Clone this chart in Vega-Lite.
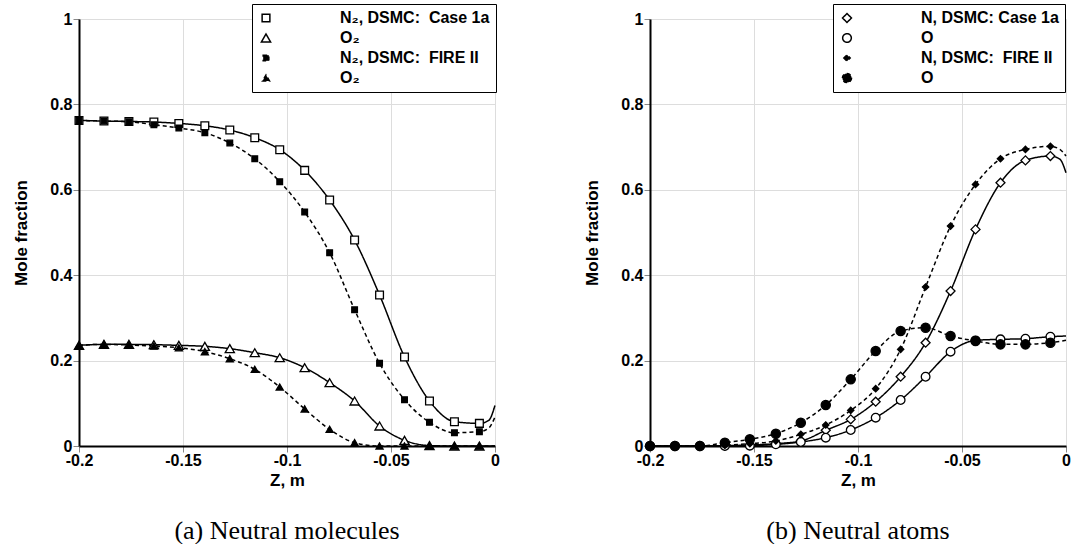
{
 "$schema": "https://vega.github.io/schema/vega-lite/v6.json",
 "padding": {"left": 12, "top": 3, "right": 0, "bottom": 0},
 "spacing": 83,
 "resolve": {"scale": {"shape": "independent", "fill": "independent", "size": "independent", "strokeDash": "independent"}, "legend": {"shape": "independent", "fill": "independent", "size": "independent", "strokeDash": "independent"}},
 "datasets": {
  "mol": [
   {"s":"N2a","z":-0.2,"y":0.7625},{"s":"N2a","z":-0.188,"y":0.761},{"s":"N2a","z":-0.176,"y":0.760},{"s":"N2a","z":-0.164,"y":0.7587},{"s":"N2a","z":-0.152,"y":0.7555},{"s":"N2a","z":-0.1395,"y":0.750},{"s":"N2a","z":-0.1275,"y":0.740},{"s":"N2a","z":-0.1155,"y":0.722},{"s":"N2a","z":-0.1035,"y":0.694},{"s":"N2a","z":-0.0915,"y":0.6455},{"s":"N2a","z":-0.0795,"y":0.576},{"s":"N2a","z":-0.0675,"y":0.4823},{"s":"N2a","z":-0.0555,"y":0.3536},{"s":"N2a","z":-0.0435,"y":0.2084},{"s":"N2a","z":-0.0315,"y":0.1054},{"s":"N2a","z":-0.0195,"y":0.057},{"s":"N2a","z":-0.0075,"y":0.053},{"s":"N2a","z":-0.003,"y":0.06},{"s":"N2a","z":0,"y":0.095},
   {"s":"O2a","z":-0.2,"y":0.2357},{"s":"O2a","z":-0.188,"y":0.238},{"s":"O2a","z":-0.176,"y":0.238},{"s":"O2a","z":-0.164,"y":0.2373},{"s":"O2a","z":-0.152,"y":0.2357},{"s":"O2a","z":-0.1395,"y":0.2334},{"s":"O2a","z":-0.1275,"y":0.228},{"s":"O2a","z":-0.1155,"y":0.2185},{"s":"O2a","z":-0.1035,"y":0.2068},{"s":"O2a","z":-0.0915,"y":0.1834},{"s":"O2a","z":-0.0795,"y":0.1483},{"s":"O2a","z":-0.0675,"y":0.1054},{"s":"O2a","z":-0.0555,"y":0.0468},{"s":"O2a","z":-0.0435,"y":0.0133},{"s":"O2a","z":-0.0315,"y":0.001},{"s":"O2a","z":-0.0195,"y":0},{"s":"O2a","z":-0.0075,"y":0},{"s":"O2a","z":0,"y":0},
   {"s":"N2f","z":-0.2,"y":0.7625},{"s":"N2f","z":-0.188,"y":0.761},{"s":"N2f","z":-0.176,"y":0.7594},{"s":"N2f","z":-0.164,"y":0.7524},{"s":"N2f","z":-0.152,"y":0.7446},{"s":"N2f","z":-0.1395,"y":0.7337},{"s":"N2f","z":-0.1275,"y":0.7095},{"s":"N2f","z":-0.1155,"y":0.6728},{"s":"N2f","z":-0.1035,"y":0.619},{"s":"N2f","z":-0.0915,"y":0.5478},{"s":"N2f","z":-0.0795,"y":0.4527},{"s":"N2f","z":-0.0675,"y":0.3192},{"s":"N2f","z":-0.0555,"y":0.1936},{"s":"N2f","z":-0.0435,"y":0.1085},{"s":"N2f","z":-0.0315,"y":0.0554},{"s":"N2f","z":-0.0195,"y":0.0312},{"s":"N2f","z":-0.0075,"y":0.0336},{"s":"N2f","z":-0.003,"y":0.042},{"s":"N2f","z":0,"y":0.068},
   {"s":"O2f","z":-0.2,"y":0.2357},{"s":"O2f","z":-0.188,"y":0.238},{"s":"O2f","z":-0.176,"y":0.2365},{"s":"O2f","z":-0.164,"y":0.234},{"s":"O2f","z":-0.152,"y":0.230},{"s":"O2f","z":-0.1395,"y":0.2209},{"s":"O2f","z":-0.1275,"y":0.2045},{"s":"O2f","z":-0.1155,"y":0.1795},{"s":"O2f","z":-0.1035,"y":0.1381},{"s":"O2f","z":-0.0915,"y":0.0867},{"s":"O2f","z":-0.0795,"y":0.039},{"s":"O2f","z":-0.0675,"y":0.0078},{"s":"O2f","z":-0.0555,"y":0},{"s":"O2f","z":-0.0435,"y":0},{"s":"O2f","z":-0.0315,"y":0},{"s":"O2f","z":-0.0195,"y":0},{"s":"O2f","z":-0.0075,"y":0},{"s":"O2f","z":0,"y":0}
  ],
  "atom": [
   {"s":"Na","z":-0.2,"y":0},{"s":"Na","z":-0.188,"y":0},{"s":"Na","z":-0.176,"y":0},{"s":"Na","z":-0.164,"y":0.0008},{"s":"Na","z":-0.152,"y":0.0023},{"s":"Na","z":-0.1395,"y":0.0055},{"s":"Na","z":-0.1275,"y":0.0117},{"s":"Na","z":-0.1155,"y":0.0367},{"s":"Na","z":-0.1035,"y":0.0624},{"s":"Na","z":-0.0915,"y":0.1038},{"s":"Na","z":-0.0795,"y":0.1623},{"s":"Na","z":-0.0675,"y":0.242},{"s":"Na","z":-0.0555,"y":0.3629},{"s":"Na","z":-0.0435,"y":0.5073},{"s":"Na","z":-0.0315,"y":0.6166},{"s":"Na","z":-0.0195,"y":0.6689},{"s":"Na","z":-0.0075,"y":0.679},{"s":"Na","z":-0.003,"y":0.672},{"s":"Na","z":0,"y":0.64},
   {"s":"Oa","z":-0.2,"y":0},{"s":"Oa","z":-0.188,"y":0},{"s":"Oa","z":-0.176,"y":0},{"s":"Oa","z":-0.164,"y":0},{"s":"Oa","z":-0.152,"y":0.0008},{"s":"Oa","z":-0.1395,"y":0.0039},{"s":"Oa","z":-0.1275,"y":0.0094},{"s":"Oa","z":-0.1155,"y":0.0195},{"s":"Oa","z":-0.1035,"y":0.0375},{"s":"Oa","z":-0.0915,"y":0.0663},{"s":"Oa","z":-0.0795,"y":0.1077},{"s":"Oa","z":-0.0675,"y":0.1623},{"s":"Oa","z":-0.0555,"y":0.2209},{"s":"Oa","z":-0.0435,"y":0.2474},{"s":"Oa","z":-0.0315,"y":0.2498},{"s":"Oa","z":-0.0195,"y":0.2513},{"s":"Oa","z":-0.0075,"y":0.256},{"s":"Oa","z":0,"y":0.2576},
   {"s":"Nf","z":-0.2,"y":0},{"s":"Nf","z":-0.188,"y":0},{"s":"Nf","z":-0.176,"y":0},{"s":"Nf","z":-0.164,"y":0.0016},{"s":"Nf","z":-0.152,"y":0.0055},{"s":"Nf","z":-0.1395,"y":0.0117},{"s":"Nf","z":-0.1275,"y":0.0273},{"s":"Nf","z":-0.1155,"y":0.0492},{"s":"Nf","z":-0.1035,"y":0.0835},{"s":"Nf","z":-0.0915,"y":0.1342},{"s":"Nf","z":-0.0795,"y":0.2263},{"s":"Nf","z":-0.0675,"y":0.3723},{"s":"Nf","z":-0.0555,"y":0.5151},{"s":"Nf","z":-0.0435,"y":0.6127},{"s":"Nf","z":-0.0315,"y":0.6728},{"s":"Nf","z":-0.0195,"y":0.6946},{"s":"Nf","z":-0.0075,"y":0.7017},{"s":"Nf","z":-0.003,"y":0.695},{"s":"Nf","z":0,"y":0.679},
   {"s":"Of","z":-0.2,"y":0},{"s":"Of","z":-0.188,"y":0},{"s":"Of","z":-0.176,"y":0},{"s":"Of","z":-0.164,"y":0.0078},{"s":"Of","z":-0.152,"y":0.0156},{"s":"Of","z":-0.1395,"y":0.0289},{"s":"Of","z":-0.1275,"y":0.0546},{"s":"Of","z":-0.1155,"y":0.096},{"s":"Of","z":-0.1035,"y":0.1561},{"s":"Of","z":-0.0915,"y":0.2224},{"s":"Of","z":-0.0795,"y":0.2693},{"s":"Of","z":-0.0675,"y":0.2771},{"s":"Of","z":-0.0555,"y":0.2576},{"s":"Of","z":-0.0435,"y":0.2459},{"s":"Of","z":-0.0315,"y":0.238},{"s":"Of","z":-0.0195,"y":0.238},{"s":"Of","z":-0.0075,"y":0.242},{"s":"Of","z":0,"y":0.2474}
  ]
 },
 "hconcat": [
  {
   "width": 416, "height": 427,
   "title": {"text": "(a) Neutral molecules", "orient": "bottom", "offset": 30, "anchor": "middle", "font": "Liberation Serif", "fontSize": 26, "fontWeight": "normal", "color": "black"},
   "data": {"name": "mol"},
   "layer": [
    {"mark": {"type": "line", "interpolate": "monotone", "color": "black", "strokeWidth": 1.5},
     "encoding": {
      "x": {"field": "z", "type": "quantitative", "scale": {"domain": [-0.2, 0], "nice": false, "zero": false},
            "axis": {"title": "Z, m", "values": [-0.2,-0.15,-0.1,-0.05,0],
                     "labelExpr": "toString(round(datum.value*100)/100)",
                     "tickSize": 6, "labelFlush": false, "labelOverlap": false, "labelPadding": 0, "titlePadding": 4,
                     "domainColor": "black", "domainWidth": 2,
                     "labelFont": "Liberation Sans", "labelFontWeight": "bold", "labelFontSize": 16, "labelColor": "black",
                     "titleFont": "Liberation Sans", "titleFontWeight": "bold", "titleFontSize": 17, "titleColor": "black"}},
      "y": {"field": "y", "type": "quantitative", "scale": {"domain": [0, 1], "nice": false},
            "axis": {"title": "Mole fraction", "values": [0,0.2,0.4,0.6,0.8,1],
                     "labelExpr": "toString(round(datum.value*10)/10)",
                     "tickSize": 6, "labelFlush": false, "labelOverlap": false, "labelPadding": 1, "titlePadding": 19,
                     "domainColor": "black", "domainWidth": 2,
                     "labelFont": "Liberation Sans", "labelFontWeight": "bold", "labelFontSize": 16, "labelColor": "black",
                     "titleFont": "Liberation Sans", "titleFontWeight": "bold", "titleFontSize": 17, "titleColor": "black"}},
      "detail": {"field": "s", "type": "nominal"},
      "strokeDash": {"field": "s", "type": "nominal", "scale": {"domain": ["N2a","O2a","N2f","O2f"], "range": [[1,0],[1,0],[4,3],[4,3]]},
        "legend": {"orient": "none", "legendX": 173, "legendY": -15, "title": null, "padding": 6, "strokeColor": "black", "fillColor": "white", "symbolSize": 256, "labelLimit": 400, "labelFont": "Liberation Sans", "labelFontWeight": "bold", "labelFontSize": 16, "labelColor": "black", "labelOffset": 66, "rowPadding": 4,
          "labelExpr": "datum.value==='N2a' ? 'N₂, DSMC:\u00a0 Case 1a' : datum.value==='N2f' ? 'N₂, DSMC:\u00a0 FIRE II' : 'O₂'"}}
     }},
    {"transform": [{"filter": "datum.z < -0.004"}],
     "mark": {"type": "point", "filled": true, "stroke": "black", "strokeWidth": 1.3, "opacity": 1},
     "encoding": {
      "x": {"field": "z", "type": "quantitative"},
      "y": {"field": "y", "type": "quantitative"},
      "fill": {"field": "s", "type": "nominal", "scale": {"domain": ["N2a","O2a","N2f","O2f"], "range": ["white","white","black","black"]},
        "legend": {"orient": "none", "legendX": 173, "legendY": -15, "title": null, "padding": 6, "strokeColor": "black", "fillColor": "white", "symbolSize": 256, "labelLimit": 400, "labelFont": "Liberation Sans", "labelFontWeight": "bold", "labelFontSize": 16, "labelColor": "black", "labelOffset": 66, "rowPadding": 4,
          "labelExpr": "datum.value==='N2a' ? 'N₂, DSMC:\u00a0 Case 1a' : datum.value==='N2f' ? 'N₂, DSMC:\u00a0 FIRE II' : 'O₂'"}},
      "size": {"field": "s", "type": "nominal", "scale": {"type": "ordinal", "domain": ["N2a","O2a","N2f","O2f"], "range": [60,85,32,50]},
        "legend": {"orient": "none", "legendX": 173, "legendY": -15, "title": null, "padding": 6, "strokeColor": "black", "fillColor": "white", "symbolSize": 256, "labelLimit": 400, "labelFont": "Liberation Sans", "labelFontWeight": "bold", "labelFontSize": 16, "labelColor": "black", "labelOffset": 66, "rowPadding": 4,
          "labelExpr": "datum.value==='N2a' ? 'N₂, DSMC:\u00a0 Case 1a' : datum.value==='N2f' ? 'N₂, DSMC:\u00a0 FIRE II' : 'O₂'"}},
      "shape": {"field": "s", "type": "nominal", "scale": {"domain": ["N2a","O2a","N2f","O2f"], "range": ["square","triangle-up","square","triangle-up"]},
        "legend": {"orient": "none", "legendX": 173, "legendY": -15, "title": null, "padding": 6, "strokeColor": "black", "fillColor": "white", "symbolSize": 256, "labelLimit": 400, "labelFont": "Liberation Sans", "labelFontWeight": "bold", "labelFontSize": 16, "labelColor": "black", "labelOffset": 66, "rowPadding": 4,
          "labelExpr": "datum.value==='N2a' ? 'N₂, DSMC:\u00a0 Case 1a' : datum.value==='N2f' ? 'N₂, DSMC:\u00a0 FIRE II' : 'O₂'"}}
     }}
   ]
  },
  {
   "width": 416, "height": 427,
   "title": {"text": "(b) Neutral atoms", "orient": "bottom", "offset": 30, "anchor": "middle", "font": "Liberation Serif", "fontSize": 26, "fontWeight": "normal", "color": "black"},
   "data": {"name": "atom"},
   "layer": [
    {"mark": {"type": "line", "interpolate": "monotone", "color": "black", "strokeWidth": 1.5},
     "encoding": {
      "x": {"field": "z", "type": "quantitative", "scale": {"domain": [-0.2, 0], "nice": false, "zero": false},
            "axis": {"title": "Z, m", "values": [-0.2,-0.15,-0.1,-0.05,0],
                     "labelExpr": "toString(round(datum.value*100)/100)",
                     "tickSize": 6, "labelFlush": false, "labelOverlap": false, "labelPadding": 0, "titlePadding": 4,
                     "domainColor": "black", "domainWidth": 2,
                     "labelFont": "Liberation Sans", "labelFontWeight": "bold", "labelFontSize": 16, "labelColor": "black",
                     "titleFont": "Liberation Sans", "titleFontWeight": "bold", "titleFontSize": 17, "titleColor": "black"}},
      "y": {"field": "y", "type": "quantitative", "scale": {"domain": [0, 1], "nice": false},
            "axis": {"title": "Mole fraction", "values": [0,0.2,0.4,0.6,0.8,1],
                     "labelExpr": "toString(round(datum.value*10)/10)",
                     "tickSize": 6, "labelFlush": false, "labelOverlap": false, "labelPadding": 1, "titlePadding": 19,
                     "domainColor": "black", "domainWidth": 2,
                     "labelFont": "Liberation Sans", "labelFontWeight": "bold", "labelFontSize": 16, "labelColor": "black",
                     "titleFont": "Liberation Sans", "titleFontWeight": "bold", "titleFontSize": 17, "titleColor": "black"}},
      "detail": {"field": "s", "type": "nominal"},
      "strokeDash": {"field": "s", "type": "nominal", "scale": {"domain": ["Na","Oa","Nf","Of"], "range": [[1,0],[1,0],[4,3],[4,3]]},
        "legend": {"orient": "none", "legendX": 183, "legendY": -15, "title": null, "padding": 6, "strokeColor": "black", "fillColor": "white", "symbolSize": 256, "labelLimit": 400, "labelFont": "Liberation Sans", "labelFontWeight": "bold", "labelFontSize": 16, "labelColor": "black", "labelOffset": 66, "rowPadding": 4,
          "labelExpr": "datum.value==='Na' ? 'N, DSMC: Case 1a' : datum.value==='Nf' ? 'N, DSMC:\u00a0 FIRE II' : 'O'"}}
     }},
    {"transform": [{"filter": "datum.z < -0.004"}],
     "mark": {"type": "point", "filled": true, "stroke": "black", "strokeWidth": 1.3, "opacity": 1},
     "encoding": {
      "x": {"field": "z", "type": "quantitative"},
      "y": {"field": "y", "type": "quantitative"},
      "fill": {"field": "s", "type": "nominal", "scale": {"domain": ["Na","Oa","Nf","Of"], "range": ["white","white","black","black"]},
        "legend": {"orient": "none", "legendX": 183, "legendY": -15, "title": null, "padding": 6, "strokeColor": "black", "fillColor": "white", "symbolSize": 256, "labelLimit": 400, "labelFont": "Liberation Sans", "labelFontWeight": "bold", "labelFontSize": 16, "labelColor": "black", "labelOffset": 66, "rowPadding": 4,
          "labelExpr": "datum.value==='Na' ? 'N, DSMC: Case 1a' : datum.value==='Nf' ? 'N, DSMC:\u00a0 FIRE II' : 'O'"}},
      "size": {"field": "s", "type": "nominal", "scale": {"type": "ordinal", "domain": ["Na","Oa","Nf","Of"], "range": [80,75,40,85]},
        "legend": {"orient": "none", "legendX": 183, "legendY": -15, "title": null, "padding": 6, "strokeColor": "black", "fillColor": "white", "symbolSize": 256, "labelLimit": 400, "labelFont": "Liberation Sans", "labelFontWeight": "bold", "labelFontSize": 16, "labelColor": "black", "labelOffset": 66, "rowPadding": 4,
          "labelExpr": "datum.value==='Na' ? 'N, DSMC: Case 1a' : datum.value==='Nf' ? 'N, DSMC:\u00a0 FIRE II' : 'O'"}},
      "shape": {"field": "s", "type": "nominal", "scale": {"domain": ["Na","Oa","Nf","Of"], "range": ["diamond","circle","diamond","circle"]},
        "legend": {"orient": "none", "legendX": 183, "legendY": -15, "title": null, "padding": 6, "strokeColor": "black", "fillColor": "white", "symbolSize": 256, "labelLimit": 400, "labelFont": "Liberation Sans", "labelFontWeight": "bold", "labelFontSize": 16, "labelColor": "black", "labelOffset": 66, "rowPadding": 4,
          "labelExpr": "datum.value==='Na' ? 'N, DSMC: Case 1a' : datum.value==='Nf' ? 'N, DSMC:\u00a0 FIRE II' : 'O'"}}
     }}
   ]
  }
 ],
 "config": {
  "view": {"stroke": null},
  "font": "Liberation Sans"
 }
}
